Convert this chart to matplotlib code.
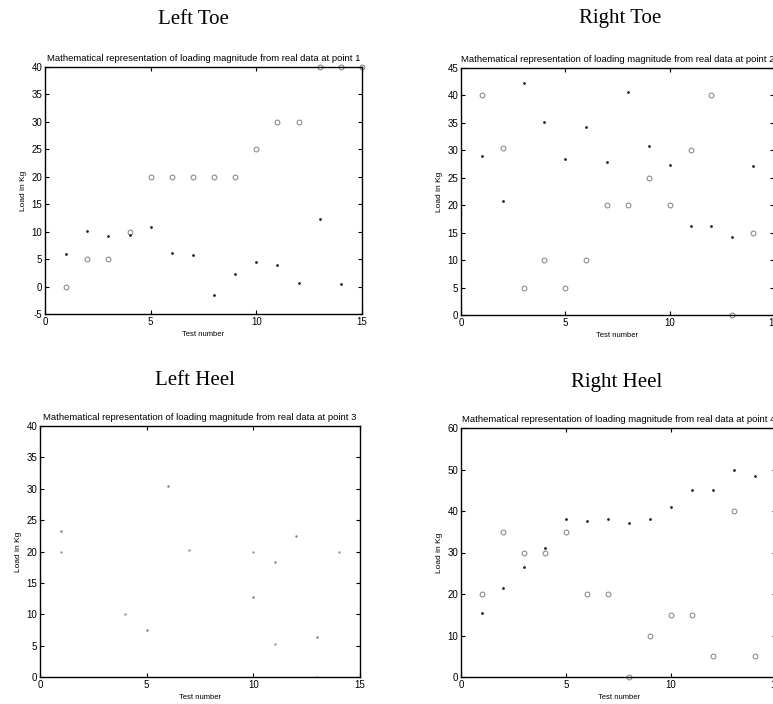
import matplotlib
matplotlib.use('Agg')
import matplotlib.pyplot as plt

#......... test numbers ...........................
tests = list(range(1, 16))

#......... Left Toe (point 1) .....................
lt_real = [0, 5, 5, 10, 20, 20, 20, 20, 20, 25, 30, 30, 40, 40, 40]
lt_model = [6, 10.2, 9.3, 9.4, 10.8, 6.2, 5.8, -1.5, 2.3, 4.5, 4, 0.6, 12.3, 0.5]

#......... Right Toe (point 2) ....................
rt_real = [40, 30.5, 5, 10, 5, 10, 20, 20, 25, 20, 30, 40, 0, 15]
rt_model = [29, 20.7, 42.3, 35.2, 28.5, 34.2, 27.8, 40.7, 30.7, 27.3, 16.3, 16.2, 14.3, 27.2]

#......... Left Heel (point 3) ....................
lh_real_x = [1, 4, 7, 10, 11, 13, 14]
lh_real = [20, 10, 20.2, 20, 5.2, 0, 20]
lh_model_x = [1, 5, 6, 10, 11, 12, 13]
lh_model = [23.3, 7.5, 30.4, 12.8, 18.3, 22.4, 6.3]

#......... Right Heel (point 4) ...................
rh_real = [20, 35, 30, 30, 35, 20, 20, 0, 10, 15, 15, 5, 40, 5]
rh_model = [15.5, 21.5, 26.5, 31, 38, 37.5, 38, 37, 38, 41, 45, 45, 50, 48.5]

plt.rcParams['font.family'] = 'Liberation Sans'
plt.rcParams['axes.unicode_minus'] = False
fig = plt.figure(figsize=(7.73, 7.04), dpi=100)

W, H = 773.0, 704.0

def make_ax(l, r, t, b):
    # pixel box -> figure fraction
    return fig.add_axes([l / W, 1 - b / H, (r - l) / W, (b - t) / H])

def style(ax, ylim, yticks, n):
    ax.set_xlim(0, 15)
    ax.set_ylim(*ylim)
    ax.set_xticks([0, 5, 10, 15])
    ax.set_yticks(yticks)
    ax.tick_params(direction='in', top=True, right=True, length=3, width=0.8,
                   labelsize=7, pad=2)
    for s in ax.spines.values():
        s.set_linewidth(1.0)
    ax.set_xlabel('Test number', fontsize=5.5, labelpad=3)
    ax.set_ylabel('Load in Kg', fontsize=6, labelpad=3)
    ax.set_title('Mathematical representation of loading magnitude from real data at point %d' % n,
                 fontsize=6.8, pad=4)

circ = dict(linestyle='none', marker='o', markersize=3.5, markerfacecolor='none',
            markeredgecolor='0.5', markeredgewidth=0.7, clip_on=False)
dot = dict(linestyle='none', marker='.', markersize=2, color='0.15', clip_on=False)

# Left Toe
ax1 = make_ax(45, 362, 67, 314)
ax1.plot(tests, lt_real, **circ)
ax1.plot(tests[:len(lt_model)], lt_model, **dot)
style(ax1, (-5, 40), range(-5, 41, 5), 1)

# Right Toe
ax2 = make_ax(461, 774, 68, 315)
ax2.plot(tests[:len(rt_real)], rt_real, **circ)
ax2.plot(tests[:len(rt_model)], rt_model, **dot)
style(ax2, (0, 45), range(0, 46, 5), 2)

# Left Heel
ax3 = make_ax(40, 360, 426, 677)
ax3.plot(lh_real_x, lh_real, linestyle='none', marker='.', markersize=1.5, color='0.6')
ax3.plot(lh_model_x, lh_model, linestyle='none', marker='.', markersize=1.5, color='0.5')
style(ax3, (0, 40), range(0, 41, 5), 3)

# Right Heel
ax4 = make_ax(461, 776, 428, 677)
ax4.plot(tests[:len(rh_real)], rh_real, **circ)
ax4.plot(tests[:len(rh_model)], rh_model, **dot)
style(ax4, (0, 60), range(0, 61, 10), 4)

# panel headings
serif = 'Liberation Serif'
fig.text(193 / W, 1 - 19 / H, 'Left Toe', ha='center', va='center', fontsize=15, family=serif)
fig.text(620 / W, 1 - 19 / H, 'Right Toe', ha='center', va='center', fontsize=15, family=serif)
fig.text(195 / W, 1 - 381 / H, 'Left Heel', ha='center', va='center', fontsize=15, family=serif)
fig.text(617 / W, 1 - 382 / H, 'Right Heel', ha='center', va='center', fontsize=15, family=serif)

fig.savefig('out.png', dpi=100)
